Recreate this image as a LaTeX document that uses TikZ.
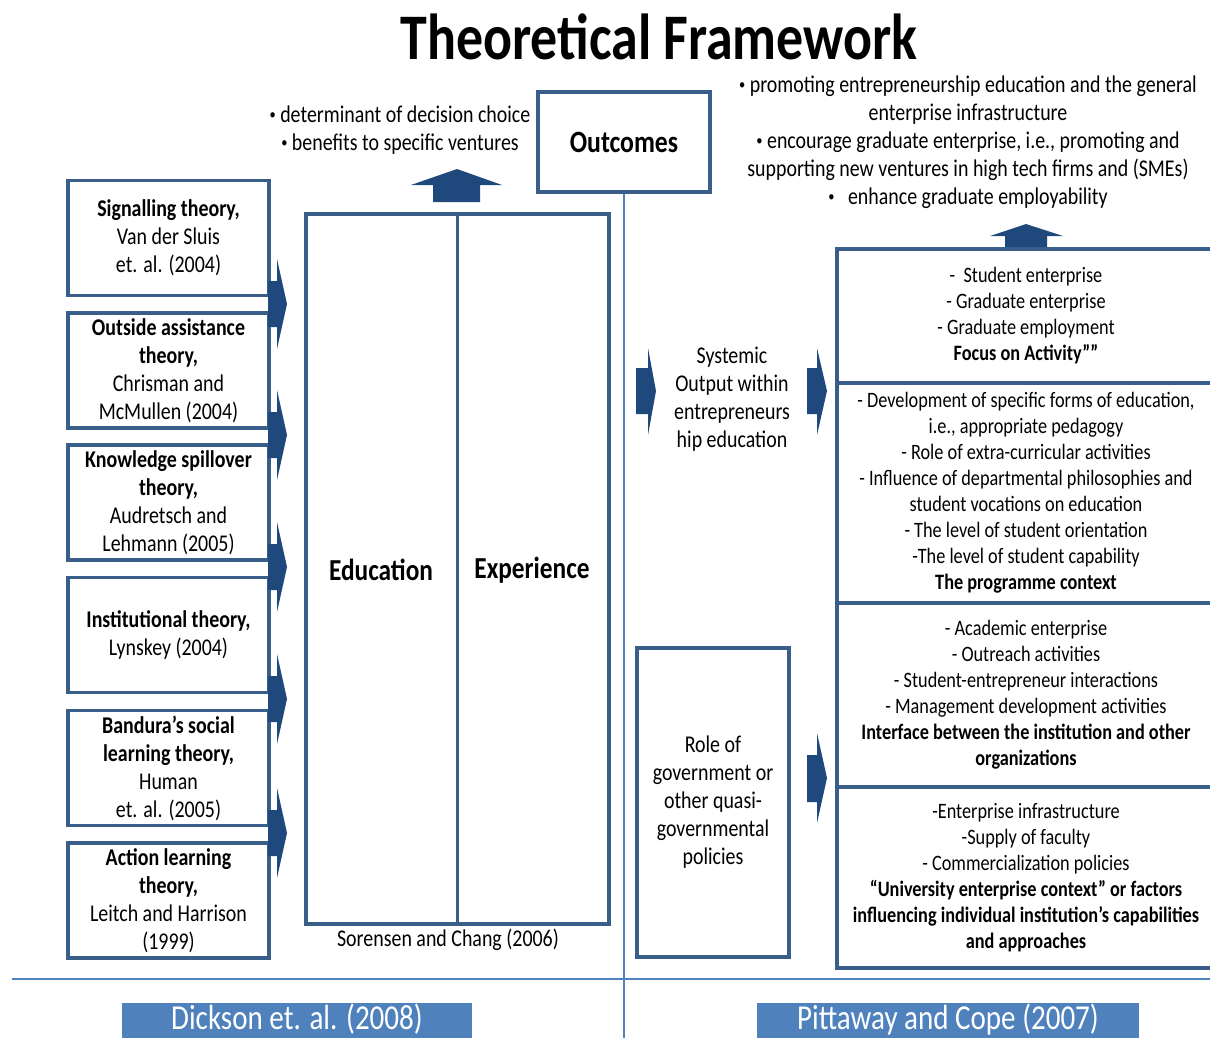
\documentclass[tikz,border=0pt]{standalone}
\usepackage{fontspec}
\setmainfont{Carlito}[FakeStretch=0.83]
\usetikzlibrary{positioning}

\definecolor{boxblue}{RGB}{58,94,138}
\definecolor{arrowblue}{RGB}{31,73,125}
\definecolor{lineblue}{RGB}{79,129,189}
\newcommand{\bul}{\raisebox{0.12em}{\fontsize{15}{15}\selectfont•}}

\begin{document}
\begin{tikzpicture}[x=1pt, y=-1pt,
    theory/.style={draw=boxblue, line width=3.5pt, minimum width=201pt, minimum height=115pt,
      inner sep=0pt, align=center, font=\fontsize{24}{28}\selectfont},
    ctxbox/.style={draw=boxblue, line width=3.5pt, minimum width=378pt, inner sep=0pt, outer sep=0pt,
      anchor=north west, align=center, font=\fontsize{22}{26}\selectfont},
    plain/.style={align=center, inner sep=0pt, font=\fontsize{24}{28}\selectfont},
    divider/.style={draw=lineblue, line width=1.2pt},
    tag/.style={anchor=base, text=white, inner sep=0pt, font=\fontsize{35}{40}\selectfont},
  ]
  \useasboundingbox (0,0) rectangle (1210,1038);
  \clip (0,0) rectangle (1210,1038);

  \node[font=\bfseries\fontsize{65}{70}\selectfont] (title) at (659,37) {Theoretical Framework};

  % theories on the left
  \node[theory] (signal) at (168.5,238) {\textbf{Signalling theory,}\\Van der Sluis\\et. al. (2004)};
  \node[theory] (outside) at (168.5,370.5) {\textbf{Outside assistance}\\\textbf{theory,}\\Chrisman and\\McMullen (2004)};
  \node[theory] (spill) at (168.5,502.5) {\textbf{Knowledge spillover}\\\textbf{theory,}\\Audretsch and\\Lehmann (2005)};
  \node[theory] (inst) at (168.5,635) {\textbf{Institutional theory,}\\Lynskey (2004)};
  \node[theory] (bandura) at (168.5,768) {\textbf{Bandura’s social}\\\textbf{learning theory,}\\Human\\et. al. (2005)};
  \node[theory] (action) at (168.5,900.5) {\textbf{Action learning}\\\textbf{theory,}\\Leitch and Harrison\\(1999)};

  \foreach \y in {304,435,567,699,833}
    \fill[arrowblue] (268,\y-23) -- (277,\y-23) -- (277,\y-45) -- (287,\y)
      -- (277,\y+45) -- (277,\y+23) -- (268,\y+23) -- cycle;

  % education / experience
  \node[draw=boxblue, line width=3.5pt, minimum width=303pt, minimum height=710pt] (frame) at (457.5,569) {};
  \draw[boxblue, line width=3.5pt] (frame.north) -- (frame.south);
  \node[plain, font=\bfseries\fontsize{30.5}{36}\selectfont] (edu) at (381,570) {Education};
  \node[plain, font=\bfseries\fontsize{30.5}{36}\selectfont] (exp) at (532,570) {Experience};
  \node[plain] (soren) at (448,940) {Sorensen and Chang (2006)};

  \fill[arrowblue] (433,202) -- (433,185) -- (411,185) -- (457,169) -- (502,185) -- (480,185) -- (480,202) -- cycle;
  \node[plain] (choice) at (400,130) {\bul\ determinant of decision choice\\\bul\ benefits to specific ventures};

  \node[draw=boxblue, line width=3.5pt, minimum width=172pt, minimum height=100pt,
    font=\bfseries\fontsize{31}{36}\selectfont] (outc) at (624,142) {Outcomes};

  % right half
  \node[plain] (aims) at (968,142.5) {\bul\ promoting entrepreneurship education and the general\\enterprise infrastructure\\\bul\ encourage graduate enterprise, i.e., promoting and\\supporting new ventures in high tech firms and (SMEs)\\\bul\ \ \ enhance graduate employability};
  \fill[arrowblue] (1005,249) -- (1005,236) -- (990,236) -- (1026,224) -- (1063,236) -- (1047,236) -- (1047,249) -- cycle;

  \fill[arrowblue] (636,368) -- (648,368) -- (648,348) -- (656,391) -- (648,435) -- (648,414) -- (636,414) -- cycle;
  \node[plain] (output) at (732,399.5) {Systemic\\Output within\\entrepreneurs\\hip education};
  \fill[arrowblue] (807,368) -- (817,368) -- (817,348) -- (827,391) -- (817,435) -- (817,414) -- (807,414) -- cycle;

  \node[draw=boxblue, line width=3.5pt, minimum width=152pt, minimum height=309pt, plain] (govt) at (713,802.5)
    {Role of\\government or\\other quasi-\\governmental\\policies};
  \fill[arrowblue] (807,755) -- (817,755) -- (817,733) -- (827,778) -- (817,823) -- (817,802) -- (807,802) -- cycle;

  \node[ctxbox, minimum height=134pt] (activity) at (837,249)
    {- \ Student enterprise\\- Graduate enterprise\\- Graduate employment\\\textbf{Focus on Activity””}};
  \node[ctxbox, minimum height=220pt] (programme) at (837,383)
    {- Development of specific forms of education,\\i.e., appropriate pedagogy\\- Role of extra-curricular activities\\- Influence of departmental philosophies and\\student vocations on education\\- The level of student orientation\\-The level of student capability\\\textbf{The programme context}};
  \node[ctxbox, minimum height=184pt] (interface) at (837,603)
    {- Academic enterprise\\- Outreach activities\\- Student-entrepreneur interactions\\- Management development activities\\\textbf{Interface between the institution and other}\\\textbf{organizations}};
  \node[ctxbox, minimum height=181pt] (university) at (837,787)
    {-Enterprise infrastructure\\-Supply of faculty\\- Commercialization policies\\\textbf{“University enterprise context” or factors}\\\textbf{influencing individual institution’s capabilities}\\\textbf{and approaches}};

  % sources
  \coordinate (split) at (624,1038);
  \draw[divider] (12,979) -- (1210,979);
  \draw[divider] (outc.south) -- (split);
  \fill[lineblue] (122,1003) rectangle (472,1045);
  \node[tag] (dickson) at (297,1029) {Dickson et. al. (2008)};
  \fill[lineblue] (757,1003) rectangle (1139,1045);
  \node[tag] (pittaway) at (948,1029) {Pittaway and Cope (2007)};
\end{tikzpicture}
\end{document}
